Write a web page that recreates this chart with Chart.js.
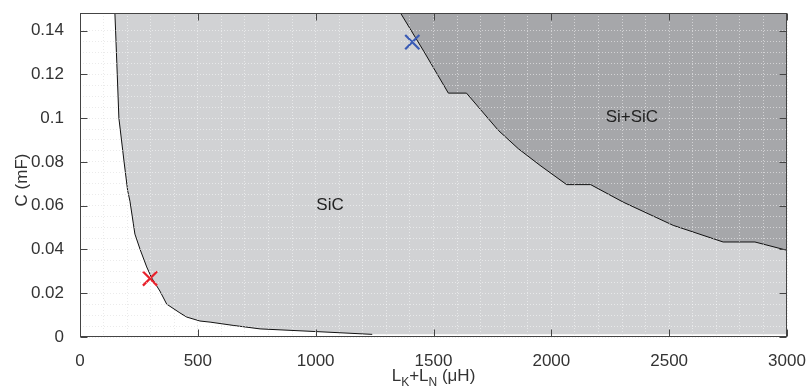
<!DOCTYPE html>
<html>
<head>
<meta charset="utf-8">
<script src="https://cdn.jsdelivr.net/npm/chart.js@4.4.1/dist/chart.umd.min.js"></script>
<style>
html, body { margin: 0; padding: 0; background: #fff; }
</style>
</head>
<body>
<canvas id="plt-c-l" width="806" height="388"></canvas>
<script>
// axis ranges
const x_min = 0, x_max = 3000;
const c_min = 0, c_max = 0.148;
const x_major = [0, 500, 1000, 1500, 2000, 2500, 3000];
const c_major = [0, 0.02, 0.04, 0.06, 0.08, 0.1, 0.12, 0.14];

// lower-left boundary (white region is left of / below it)
const left_x = [148, 151, 158, 165, 187, 202, 212, 226, 233, 255, 283, 304, 339, 368, 424, 453, 509, 552, 650, 764, 997, 1240];
const left_c = [0.148, 0.140, 0.120, 0.100, 0.080, 0.067, 0.062, 0.052, 0.047, 0.040, 0.032, 0.027, 0.021, 0.015, 0.011, 0.0091, 0.0073, 0.0068, 0.0053, 0.0037, 0.0025, 0.0012];
const c_floor = 0.0012;

// upper-right boundary (Si+SiC region above it)
const dark_x = [1360, 1460, 1563, 1640, 1775, 1860, 1952, 2065, 2167, 2305, 2517, 2729, 2864, 3000];
const dark_c = [0.148, 0.1303, 0.1114, 0.1114, 0.0944, 0.086, 0.0784, 0.0696, 0.0696, 0.0616, 0.051, 0.0434, 0.0434, 0.0396];

// operating points
const mark_x = [297, 1410];
const mark_c = [0.0267, 0.1347];
const mark_color = ['#e8202a', '#3a5bb5'];

// region labels
const region_text = ['SiC', 'Si+SiC'];
const region_x = [1061, 2342];
const region_c = [0.0601, 0.1003];

const FONT = "'Liberation Sans', Helvetica, Arial, sans-serif";
const TXT = '#333333';

function pts(xs, ys) {
    return xs.map((x, i) => ({ x: x, y: ys[i] }));
}

// edge of the white area, closed along the top and the floor
let sic_pts = [{ x: x_min, y: c_max }].concat(pts(left_x, left_c), [{ x: x_max, y: c_floor }]);

let frame_plugin = {
    id: 'frame',
    afterDraw(chart) {
        const ctx = chart.ctx;
        const a = chart.chartArea;
        const sx = chart.scales.x, sy = chart.scales.y;
        const L = Math.round(a.left) + 0.5, R = Math.round(a.right) - 0.5;
        const T = Math.round(a.top) + 0.5, B = Math.round(a.bottom) - 0.5;
        ctx.save();
        ctx.strokeStyle = '#444444';
        ctx.lineWidth = 1;
        ctx.strokeRect(L, T, R - L, B - T);
        ctx.beginPath();
        for (const v of x_major) {
            const px = Math.round(sx.getPixelForValue(v)) + 0.5;
            ctx.moveTo(px, B); ctx.lineTo(px, B - 7);
            ctx.moveTo(px, T); ctx.lineTo(px, T + 7);
        }
        for (const v of c_major) {
            const py = Math.round(sy.getPixelForValue(v)) + 0.5;
            ctx.moveTo(L, py); ctx.lineTo(L + 7, py);
            ctx.moveTo(R, py); ctx.lineTo(R - 7, py);
        }
        ctx.stroke();

        // region labels
        ctx.fillStyle = '#222222';
        ctx.font = '17px ' + FONT;
        ctx.textAlign = 'center';
        ctx.textBaseline = 'middle';
        for (let i = 0; i < region_text.length; i++) {
            ctx.fillText(region_text[i], sx.getPixelForValue(region_x[i]), sy.getPixelForValue(region_c[i]));
        }

        // x title with subscripts
        ctx.fillStyle = TXT;
        ctx.textAlign = 'left';
        ctx.textBaseline = 'alphabetic';
        const parts = [['L', 17, 0], ['K', 12, 5], ['+L', 17, 0], ['N', 12, 5], [' (\u03bcH)', 17, 0]];
        let total = 0;
        for (const p of parts) { ctx.font = p[1] + 'px ' + FONT; total += ctx.measureText(p[0]).width; }
        let cx = (a.left + a.right) / 2 - total / 2;
        for (const p of parts) {
            ctx.font = p[1] + 'px ' + FONT;
            ctx.fillText(p[0], cx, 381 + p[2]);
            cx += ctx.measureText(p[0]).width;
        }

        // y title
        ctx.font = '17px ' + FONT;
        ctx.translate(22, 180);
        ctx.rotate(-Math.PI / 2);
        ctx.textAlign = 'center';
        ctx.textBaseline = 'middle';
        ctx.fillText('C (mF)', 0, 0);
        ctx.restore();
    }
};

function no_pad(s) {
    s.paddingLeft = 0; s.paddingRight = 0;
    s.paddingTop = 0; s.paddingBottom = 0;
}

// grid under the fills (shows on white) and a light one over them (shows on gray)
function grid_axis(horizontal, step, over) {
    return {
        type: 'linear',
        position: horizontal ? 'bottom' : 'left',
        min: horizontal ? x_min : c_min,
        max: horizontal ? x_max : c_max,
        ticks: { display: false, stepSize: step, autoSkip: false },
        grid: {
            drawTicks: false, lineWidth: 1, z: over ? 1 : -1,
            color: over ? 'rgba(255,255,255,0.5)' : '#d6d6d6'
        },
        border: { display: false, dash: [1, 2] },
        afterFit: s => { no_pad(s); if (horizontal) s.height = 0; else s.width = 0; }
    };
}

var ctx = document.getElementById('plt-c-l');
var chart = new Chart(ctx, {
    type: 'line',
    data: {
        datasets: [
            {
                label: 'SiC', data: sic_pts, order: 5,
                fill: 'end', backgroundColor: '#d1d2d4', borderWidth: 0, pointRadius: 0
            },
            {
                label: 'Si+SiC', data: pts(dark_x, dark_c), order: 4,
                fill: 'end', backgroundColor: '#a6a7aa', borderColor: '#111111', borderWidth: 1, pointRadius: 0
            },
            {
                label: 'SiC edge', data: pts(left_x, left_c), order: 3,
                fill: false, borderColor: '#111111', borderWidth: 1, pointRadius: 0
            },
            {
                label: 'points', data: pts(mark_x, mark_c), order: 1,
                showLine: false, pointStyle: 'crossRot', pointRadius: 10,
                pointBorderWidth: 2.2, pointBorderColor: mark_color, pointBackgroundColor: mark_color
            }
        ]
    },
    options: {
        responsive: false,
        animation: false,
        layout: { padding: { top: 13, right: 19, left: 0, bottom: 0 } },
        plugins: {
            legend: { display: false },
            tooltip: { enabled: false }
        },
        scales: {
            x: {
                type: 'linear', min: x_min, max: x_max,
                ticks: {
                    stepSize: 100, autoSkip: false, maxRotation: 0, padding: 6,
                    color: TXT, font: { family: FONT, size: 17 },
                    callback: v => (v % 500 === 0 ? String(v) : '')
                },
                grid: { display: false },
                border: { display: false },
                afterFit: s => { no_pad(s); s.height = 51; }
            },
            y: {
                type: 'linear', min: c_min, max: c_max,
                ticks: {
                    stepSize: 0.005, autoSkip: false, padding: 8,
                    color: TXT, font: { family: FONT, size: 17 },
                    callback: v => {
                        let m = Math.round(v * 1000);
                        return (m % 20 === 0 && m <= 140) ? String(+v.toFixed(2)) : '';
                    }
                },
                grid: { display: false },
                border: { display: false },
                afterFit: s => { no_pad(s); s.width = 80; }
            },
            xu: grid_axis(true, 100, false),
            yu: grid_axis(false, 0.005, false),
            xo: grid_axis(true, 100, true),
            yo: grid_axis(false, 0.005, true)
        }
    },
    plugins: [frame_plugin]
});
</script>
</body>
</html>
